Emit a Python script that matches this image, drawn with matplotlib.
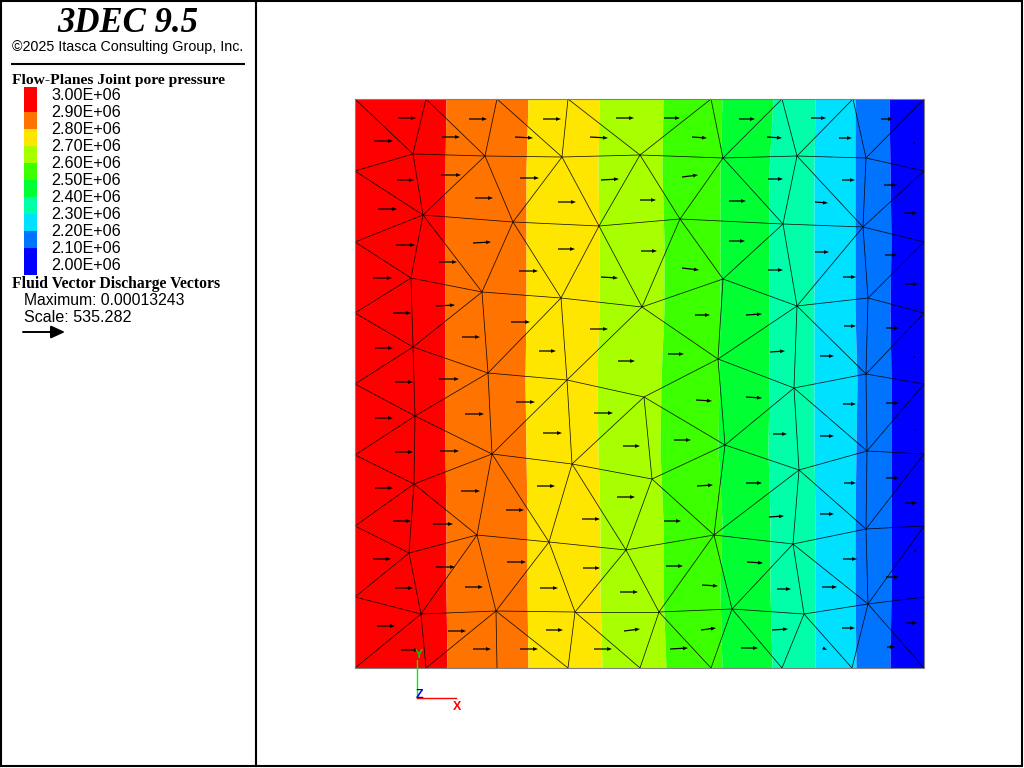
import matplotlib
matplotlib.use("Agg")
import matplotlib.pyplot as plt
from matplotlib.patches import Rectangle

# --- Model data (model units, domain 0..569) ---------------------------------
node_names = [
    "T0", "T1", "T2", "T3", "T4", "T5", "T6", "T7",
    "L1", "L2", "L3", "L4", "L5", "L6", "L7",
    "B0", "B1", "B2", "B3", "B4", "B5", "B6", "B7", "B8",
    "R1", "R2", "R3", "R4", "R5", "R6", "R7",
    "a1", "a2", "a3", "a4", "a5", "a6", "a7",
    "b1", "b2", "b3", "b4", "b5", "b6",
    "c1", "c2", "c3", "c4", "c5", "c6", "c7",
    "d1", "d2", "d3", "d4", "d5", "d6",
    "e1", "e2", "e3", "e4", "e5", "e6", "e7",
    "f1", "f2", "f3", "f4", "f5", "f6", "f7", "f8",
    "g0", "g1", "g2", "g3", "g4", "g5", "g6", "g7",
]
node_x = [
    0, 71, 142, 213, 356, 427, 498, 569,
    0, 0, 0, 0, 0, 0, 0,
    0, 71, 142, 213, 285, 356, 427, 497, 569,
    569, 569, 569, 569, 569, 569, 569,
    58, 130, 207, 285, 368, 442, 511,
    68, 158, 244, 325, 428, 508,
    56, 127, 206, 287, 368, 442, 513,
    58, 133, 212, 363, 439, 511,
    60, 137, 217, 289, 370, 444, 512,
    59, 122, 194, 271, 359, 438, 511, 297,
    54, 66, 141, 220, 304, 377, 449, 513,
]
node_y = [
    569, 569, 569, 569, 569, 569, 569, 569,
    497, 426, 355, 284, 213, 142, 71,
    0, 0, 0, 0, 0, 0, 0, 0, 0,
    497, 426, 355, 284, 214, 142, 71,
    514, 512, 511, 513, 510, 512, 510,
    453, 446, 442, 449, 444, 441,
    390, 376, 370, 361, 389, 362, 370,
    321, 295, 288, 309, 280, 294,
    252, 214, 204, 271, 223, 198, 217,
    184, 133, 126, 118, 133, 124, 139, 189,
    115, 54, 57, 56, 56, 59, 54, 64,
]
edges = """
T0-a1 T1-a1 T1-a2 T2-a2 T2-a3 T3-a3 T3-a4 T4-a4 T4-a5 T5-a5 T5-a6 T6-a6 T6-a7 T7-a7
L1-a1 a1-a2 a2-a3 a3-a4 a4-a5 a5-a6 a6-a7 a7-R1
a1-b1 L1-b1 a2-b1 a2-b2 a3-b2 a3-b3 a4-b3 a4-b4 a5-b4 a5-b5 a6-b5 a6-b6 a7-b6 R1-b6
L2-b1 b1-b2 b2-b3 b3-b4 b4-b5 b5-b6 b6-R2
b1-c1 L2-c1 b1-c2 b2-c2 b2-c3 b3-c3 b3-c4 b4-c4 b4-c5 b5-c5 b5-c6 b6-c6 b6-c7 R2-c7
L3-c1 c1-c2 c2-c3 c3-c4 c4-c5 c5-c6 c6-c7 c7-R3
c1-d1 L3-d1 c2-d1 c2-d2 c3-d2 c3-d3 c4-d3 c4-d4 c5-d4 c6-d4 c6-d5 c6-d6 c7-d6 R3-d6
L4-d1 d1-d2 d2-d3 d3-e4 e4-d4 d4-d5 d5-d6 d6-R4
d1-e1 L4-e1 d2-e1 d2-e2 d3-e2 d3-e3 e4-e3 e4-f8 e4-e5 d4-e5 d5-e5 d5-e6 d5-e7 d6-e7 R4-e7
L5-e1 e1-e2 e2-e3 e3-f8 f8-e5 e5-e6 e6-e7 e7-R5
e1-f1 L5-f1 e2-f1 e2-f2 e2-f3 e3-f3 e3-f4 f8-f4 f8-f5 e5-f5 e6-f5 e6-f6 e6-f7 e7-f7 R5-f7
L6-f1 f1-f2 f2-f3 f3-f4 f4-f5 f5-f6 f6-f7 f7-R6
f1-g0 L6-g0 f2-g0 f2-g1 f2-g2 f3-g2 f3-g3 f4-g3 f4-g4 f5-g4 f5-g5 f6-g5 f6-g6 f6-g7 f7-g7 R6-g7
L7-g0 L7-g1 g0-g1 g1-g2 g2-g3 g3-g4 g4-g5 g5-g6 g6-g7 g7-R7
g1-B0 g1-B1 g2-B1 g2-B2 g2-B3 g3-B3 g3-B4 g4-B4 g4-B5 g5-B5 g5-B6 g6-B6 g6-B7 g7-B7 g7-B8
""".split()

# contour band edges: x position of each level at the heights in band_y
band_y = [569, 498, 428, 358, 288, 218, 148, 78, 0]
band_edges = [
    [91, 90, 90, 90, 90, 90, 91, 91, 92],
    [173, 171, 171, 171, 170, 171, 172, 172, 173],
    [244, 243, 244, 244, 242, 243, 245, 245, 247],
    [308, 307, 309, 309, 306, 305, 308, 308, 311],
    [367, 365, 365, 365, 364, 363, 367, 365, 367],
    [418, 414, 414, 414, 414, 413, 415, 415, 417],
    [460, 459, 459, 459, 459, 459, 460, 460, 460],
    [500, 500, 500, 500, 502, 501, 500, 500, 501],
    [534, 535, 536, 535, 536, 536, 536, 536, 535],
]
band_colors = ["#FF0000", "#FF7300", "#FFE600", "#A8FF00", "#3CFF00",
               "#00FF33", "#00FFA8", "#00E1FF", "#0073FF", "#0000FF"]
level_labels = ["3.00E+06", "2.90E+06", "2.80E+06", "2.70E+06", "2.60E+06", "2.50E+06",
                "2.40E+06", "2.30E+06", "2.20E+06", "2.10E+06", "2.00E+06"]

# discharge vectors: tail position and components
vec_x = [43, 19, 114, 87, 188, 160, 235, 261, 42, 86, 165, 246, 23, 120, 203, 41,
         118, 203, 84, 164, 246, 18, 38, 81, 156, 235, 107, 20, 184, 263, 40, 84,
         309, 337, 384, 412, 456, 484, 526, 558, 327, 413, 487, 529, 285, 374, 460, 549,
         374, 286, 460, 530, 327, 413, 488, 550, 340, 391, 489, 531, 313, 415, 465, 558,
         20, 110, 161, 239, 40, 85, 188, 268, 20, 106, 182, 151, 262, 38, 78, 227,
         18, 81, 152, 228, 40, 110, 185, 265, 22, 93, 191, 269, 46, 118, 165, 239,
         341, 391, 488, 531, 319, 418, 465, 560, 342, 391, 489, 531, 550, 309, 414, 465,
         311, 392, 488, 559, 347, 422, 467, 531, 346, 417, 487, 551, 315, 386, 468, 532]
vec_y = [550, 527, 549, 531, 549, 531, 531, 550, 488, 493, 490, 488, 459, 470, 466, 423,
         425, 419, 406, 397, 391, 390, 355, 362, 346, 339, 331, 320, 317, 307, 286, 289,
         550, 531, 549, 531, 550, 530, 549, 525, 491, 489, 488, 483, 468, 467, 466, 455,
         427, 417, 416, 413, 400, 398, 391, 384, 353, 353, 342, 340, 314, 316, 312, 311,
         250, 254, 266, 255, 216, 217, 235, 222, 180, 177, 182, 158, 171, 147, 144, 149,
         109, 101, 106, 100, 80, 81, 80, 76, 42, 37, 38, 37, 18, 19, 19, 19,
         268, 271, 264, 265, 228, 234, 232, 238, 182, 185, 185, 190, 165, 147, 151, 154,
         102, 106, 109, 117, 83, 79, 81, 91, 38, 38, 40, 45, 19, 20, 20, 21]
vec_u = [18, 19, 18, 18, 18, 18, 18, 18, 17, 20, 19, 18, 19, 18, 18, 19,
         18, 17, 18, 19, 17, 19, 18, 19, 19, 18, 18, 18, 17, 17, 18, 20,
         16, 15, 16, 15, 15, 13, 12, 3, 16, 15, 13, 13, 16, 17, 13, 13,
         16, 16, 14, 12, 17, 15, 13, 13, 15, 16, 12, 13, 16, 15, 14, 3,
         18, 19, 19, 19, 18, 19, 19, 17, 18, 19, 18, 18, 18, 18, 20, 18,
         18, 19, 19, 17, 18, 18, 18, 18, 18, 18, 17, 16, 18, 18, 18, 18,
         16, 16, 13, 13, 17, 14, 14, 2, 16, 16, 12, 13, 12, 17, 15, 14,
         17, 16, 14, 3, 16, 14, 15, 13, 15, 16, 13, 11, 18, 17, 4, 8]
vec_v = [0, 0, 0, 0, 0, -1, -1, 0, 0, 0, 0, 1, 0, 0, 0, 0,
         1, 0, 0, 0, -1, 0, 0, 1, 0, 0, 0, 0, 0, 0, 0, 0,
         0, -1, 0, -1, 0, 0, 0, 0, 2, 0, 0, 0, 0, 0, -1, 0,
         0, 0, 0, 0, -2, 0, 0, 0, 0, 1, 0, 0, 0, 1, 0, 0,
         0, 0, 0, 0, 0, 0, 0, 0, 0, 0, 0, 0, 0, 0, 0, 0,
         0, 0, 0, 0, 0, 0, 0, 0, 0, 0, 0, 2, 0, 0, 0, 0,
         -1, -1, 0, 0, 0, 0, 0, 0, 1, 0, 0, 0, 0, 0, 1, 0,
         0, -1, 0, 0, -1, 0, 0, 0, 2, 1, 0, 0, 1, 0, -2, 0]

MESH_SIZE = 569

plt.rcParams["font.family"] = ["Liberation Sans", "DejaVu Sans"]
SERIF = "Liberation Serif"

fig = plt.figure(figsize=(10.24, 7.68), dpi=100)

# --- mesh panel: one model unit is one pixel -------------------------------
ax = fig.add_axes([0, 0, 1, 1])
ax.set_xlim(-355, 669)
ax.set_ylim(-100, 668)
ax.axis("off")

left = [0] * len(band_y)
for i, color in enumerate(band_colors):
    right = band_edges[i] if i < len(band_edges) else [MESH_SIZE] * len(band_y)
    ax.fill_betweenx(band_y, left, right, color=color, linewidth=0, zorder=1)
    left = right

pos = dict(zip(node_names, zip(node_x, node_y)))
for edge in edges:
    n1, n2 = edge.split("-")
    ax.plot([pos[n1][0], pos[n2][0]], [pos[n1][1], pos[n2][1]],
            color="#000000", lw=0.55, alpha=0.9, zorder=2, solid_capstyle="butt")

ax.add_patch(Rectangle((0, 0), MESH_SIZE, MESH_SIZE, fill=False, edgecolor="#808080",
                       linewidth=0.8, zorder=3))

ax.quiver(vec_x, vec_y, vec_u, vec_v, angles="xy", scale_units="xy", scale=1,
          units="dots", width=1.25, headwidth=3.0, headlength=4.0, headaxislength=4.0,
          minlength=0, color="black", zorder=4)

# axis triad
ax.plot([61.5, 61.5], [-30, 8], color="#00F000", lw=1.0, zorder=5)
ax.plot([61.5, 101], [-30, -30], color="#FF0000", lw=1.0, zorder=5)
ax.text(64, 12.5, "Y", color="#00D000", fontsize=9, weight="bold", ha="center", va="center", zorder=6)
ax.text(64, -26.5, "Z", color="#0000FF", fontsize=9, weight="bold", ha="center", va="center", zorder=6)
ax.text(102.5, -38.5, "X", color="#FF0000", fontsize=9, weight="bold", ha="center", va="center", zorder=6)

# --- legend panel, laid out in pixels ---------------------------------------
leg = fig.add_axes([0, 0, 256 / 1024, 1])
leg.set_xlim(0, 256)
leg.set_ylim(768, 0)
leg.axis("off")

leg.text(127.5, 23, "3DEC 9.5", family=SERIF, style="italic", weight="bold",
         fontsize=25, ha="center", va="center")
leg.text(127.5, 47, "\u00a92025 Itasca Consulting Group, Inc.", fontsize=10.3,
         ha="center", va="center")
leg.plot([11, 245], [63.5, 63.5], color="black", lw=1.5, solid_capstyle="butt")

leg.text(12, 80.5, "Flow-Planes Joint pore pressure", family=SERIF, weight="bold",
         fontsize=11.15, ha="left", va="center")

swatch_top = 87
for i, color in enumerate(band_colors):
    h = 25 if i == 0 else (27 if i == len(band_colors) - 1 else 17)
    leg.add_patch(Rectangle((24, swatch_top), 13, h, facecolor=color, linewidth=0))
    swatch_top += h
for i, label in enumerate(level_labels):
    leg.text(51, 95.5 + 17 * i, label, fontsize=11.6, ha="left", va="center")

leg.text(12, 284.5, "Fluid Vector Discharge Vectors", family=SERIF, weight="bold",
         fontsize=11.3, ha="left", va="center")
leg.text(24, 300.5, "Maximum: 0.00013243", fontsize=11.3, ha="left", va="center")
leg.text(24, 317, "Scale: 535.282", fontsize=11.6, ha="left", va="center")
leg.annotate("", xy=(65, 332), xytext=(23, 332),
             arrowprops=dict(arrowstyle="-|>,head_length=0.7,head_width=0.32",
                             color="black", lw=1.4, shrinkA=0, shrinkB=0, mutation_scale=12))

# --- frame: pixel-placed, the right and bottom sides stop short of the edge --
fig.add_artist(Rectangle((1 / 1024, 1 - 766 / 768), 1020.5 / 1024, 765 / 768,
                         transform=fig.transFigure, fill=False, edgecolor="black",
                         linewidth=1.5))
fig.add_artist(plt.Line2D([255.5 / 1024] * 2, [1 - 766 / 768, 1], transform=fig.transFigure,
                          color="black", lw=1.5))

fig.savefig("out.png", dpi=100)
